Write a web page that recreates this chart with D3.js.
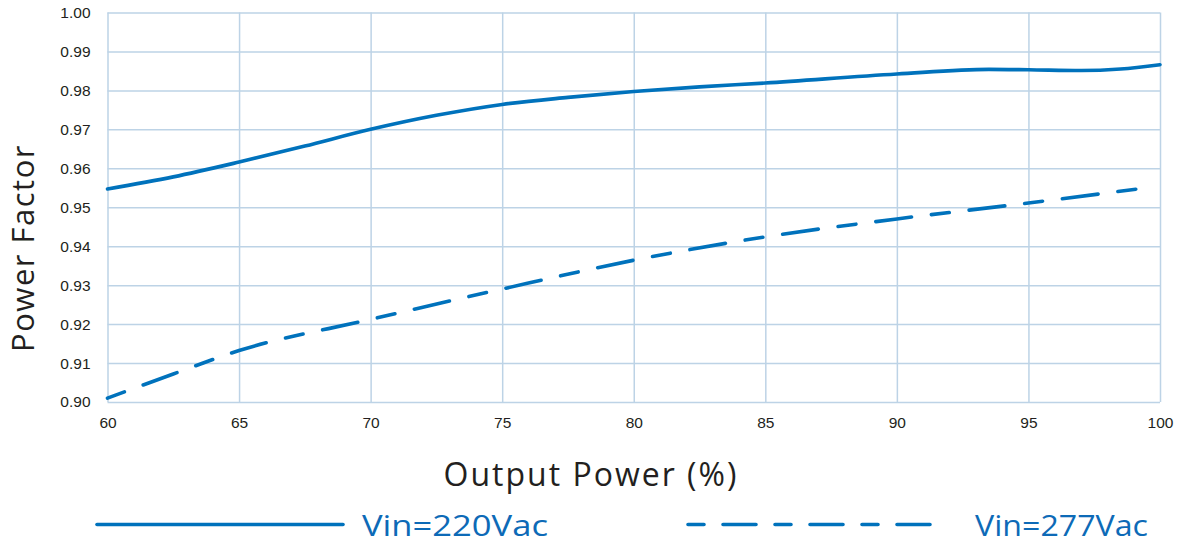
<!DOCTYPE html>
<html>
<head>
    <title>Power Factor</title>
    <script src="https://d3js.org/d3.v7.min.js"></script>
</head>
<style>
    body { margin: 0; background: #fff; }
    .grid line { stroke: #bdd3e6; stroke-width: 1.5px; }
    .grid path { display: none; }
    .tick text { font-family: "Liberation Sans", Arial, sans-serif; font-size: 15.5px; fill: #231f20; }
    .axis path, .axis line { display: none; }
    .line { fill: none; stroke: #0072bc; stroke-width: 3.6px; stroke-linecap: round; }
</style>
<body>
<script>
    // data
    let xTicks = [60, 65, 70, 75, 80, 85, 90, 95, 100];
    let yTicks = [0.90, 0.91, 0.92, 0.93, 0.94, 0.95, 0.96, 0.97, 0.98, 0.99, 1.00];
    let seriesNames = ["Vin=220Vac", "Vin=277Vac"];
    let load220 = [60, 62.5, 65, 67.5, 70, 72.5, 75, 77.5, 80, 82.5, 85, 90, 93.5, 95, 97, 98.5, 100];
    let pf220 = [0.9547, 0.9578, 0.9616, 0.9657, 0.9700, 0.9736, 0.9764, 0.9782, 0.9797, 0.9809, 0.9819, 0.9842, 0.9854, 0.9853, 0.9851, 0.9855, 0.9866];
    let load277 = [60, 62.5, 65, 70, 75, 80, 85, 90, 95, 99.5];
    let pf277 = [0.9010, 0.9072, 0.9132, 0.9212, 0.9290, 0.9364, 0.9424, 0.9470, 0.9511, 0.9550];

    let margin = {top: 12.5, right: 18, bottom: 142, left: 107.5};
    let svgwidth = 1178, svgheight = 544;
    let width = svgwidth - margin.left - margin.right;
    let height = svgheight - margin.top - margin.bottom;

    let x = d3.scaleLinear().domain([60, 100]).range([0, width]);
    let y = d3.scaleLinear().domain([0.90, 1.00]).range([height, 0]);

    let svg = d3.select("body").append("svg")
        .attr("width", svgwidth)
        .attr("height", svgheight);
    let g = svg.append("g")
        .attr("transform", "translate(" + margin.left + "," + margin.top + ")");

    // grid
    g.append("g").attr("class", "grid")
        .attr("transform", "translate(0," + height + ")")
        .call(d3.axisBottom(x).tickValues(xTicks).tickSize(-height).tickFormat(""));
    g.append("g").attr("class", "grid")
        .call(d3.axisLeft(y).tickValues(yTicks).tickSize(-width).tickFormat(""));

    // axes labels
    g.append("g").attr("class", "axis")
        .attr("transform", "translate(0," + height + ")")
        .call(d3.axisBottom(x).tickValues(xTicks).tickSize(0).tickPadding(15).tickFormat(d3.format("d")));
    g.append("g").attr("class", "axis")
        .call(d3.axisLeft(y).tickValues(yTicks).tickSize(0).tickPadding(17).tickFormat(d3.format(".2f")));

    let line = d3.line()
        .x(function(d) { return x(d[0]); })
        .y(function(d) { return y(d[1]); })
        .curve(d3.curveMonotoneX);

    let d220 = load220.map(function(v, i) { return [v, pf220[i]]; });
    let d277 = load277.map(function(v, i) { return [v, pf277[i]]; });

    g.append("path").datum(d220).attr("class", "line").attr("d", line);
    g.append("path").datum(d277).attr("class", "line")
        .style("stroke-dasharray", "18,20,36,20")
        .attr("d", line);

    // axis titles
    svg.append("text")
        .attr("x", 591)
        .attr("y", 486)
        .attr("text-anchor", "middle")
        .attr("font-family", "'Open Sans', sans-serif")
        .attr("font-size", 32)
        .attr("letter-spacing", 2)
        .attr("fill", "#231f20")
        .text("Output Power (%)");

    svg.append("text")
        .attr("transform", "translate(34,248) rotate(-90)")
        .attr("text-anchor", "middle")
        .attr("font-family", "'Open Sans', sans-serif")
        .attr("font-size", 31)
        .attr("letter-spacing", 1.5)
        .attr("fill", "#231f20")
        .text("Power Factor");

    // legend
    let legend = [
        {x1: 97, x2: 343, tx: 362, dash: null},
        {x1: 688, x2: 947, tx: 975, dash: "16,19,33,19"}
    ];
    legend.forEach(function(l, i) {
        svg.append("line")
            .attr("class", "line")
            .attr("x1", l.x1).attr("x2", l.x2)
            .attr("y1", 524.5).attr("y2", 524.5)
            .style("stroke-dasharray", l.dash);
        svg.append("text")
            .attr("x", l.tx)
            .attr("y", 536)
            .attr("font-family", "'Open Sans', sans-serif")
            .attr("font-size", 29)
            .attr("fill", "#0d6ab7")
            .attr("textLength", i === 0 ? 186 : 173)
            .attr("lengthAdjust", "spacingAndGlyphs")
            .text(seriesNames[i]);
    });
</script>
</body>
</html>
